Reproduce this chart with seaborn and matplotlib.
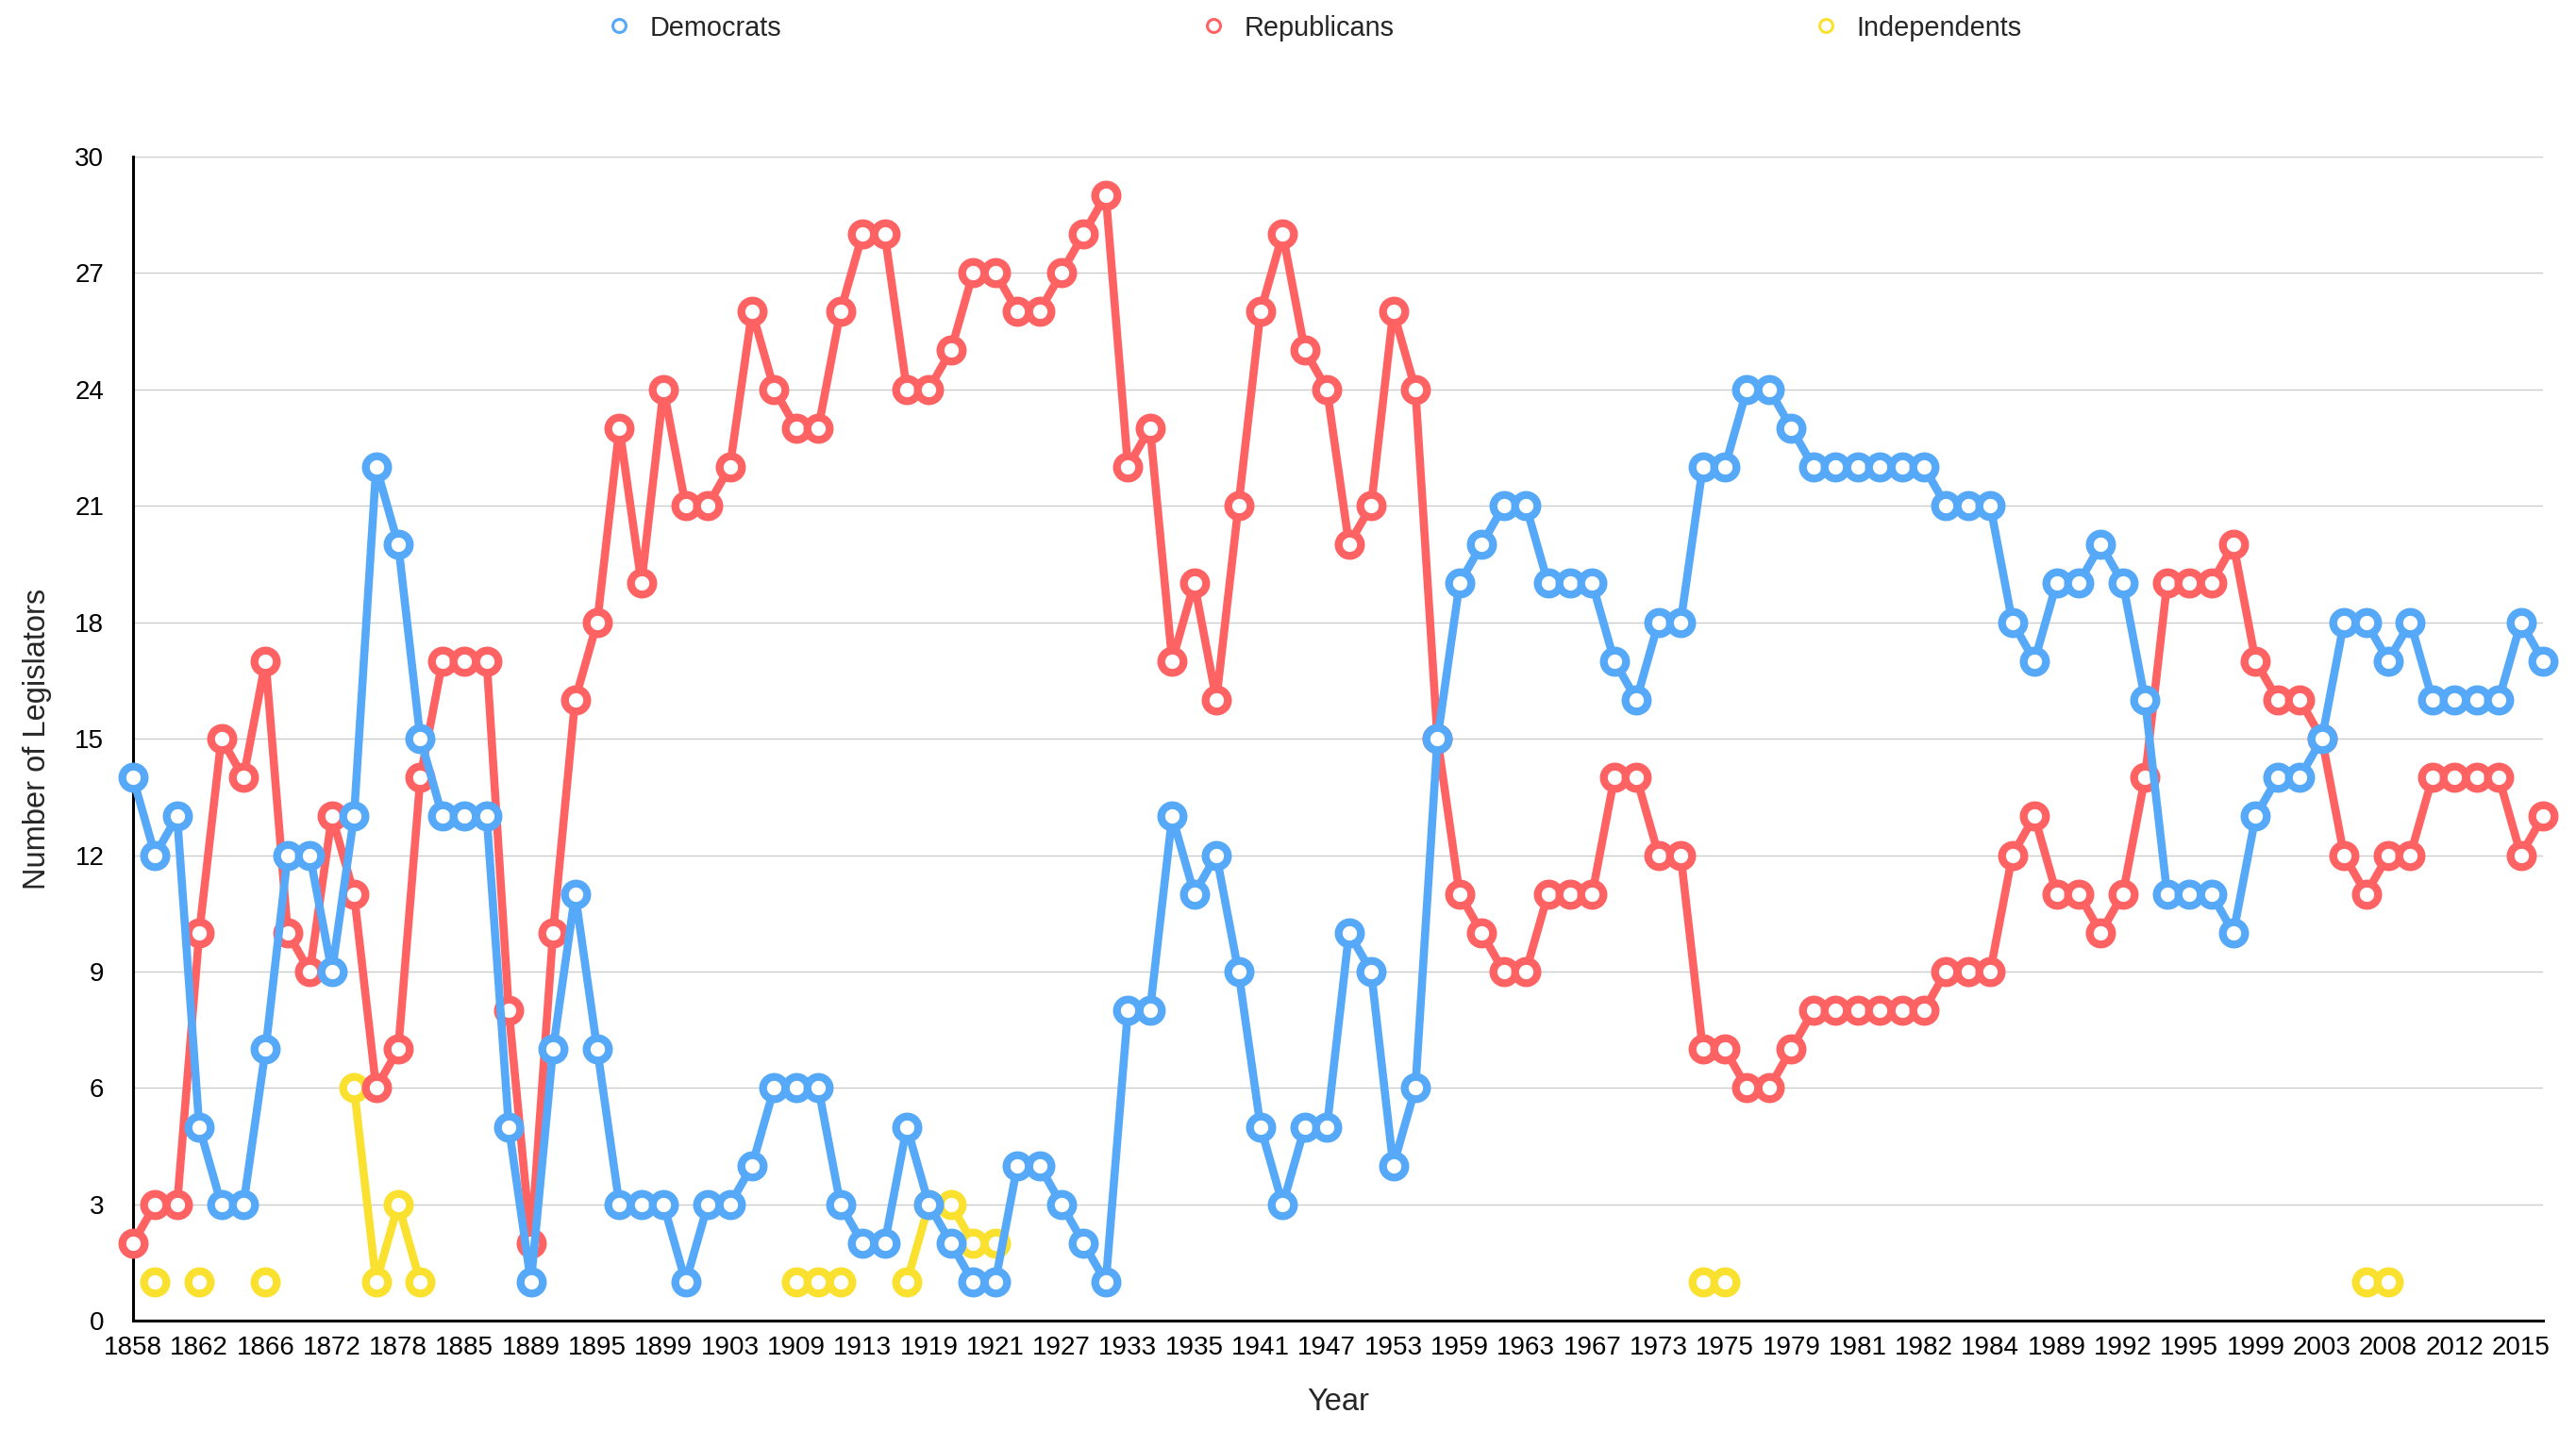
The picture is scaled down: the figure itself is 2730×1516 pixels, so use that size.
import matplotlib
matplotlib.use("Agg")
import matplotlib.pyplot as plt
import numpy as np
import pandas as pd
import seaborn as sns
from matplotlib.lines import Line2D

N = np.nan

# one entry per legislative session (only every third year is labelled on the axis)
years = [
    1858, 1859, 1860, 1862, 1863, 1864, 1866, 1868, 1870, 1872,
    1874, 1876, 1878, 1880, 1882, 1885, 1886, 1887, 1889, 1891,
    1893, 1895, 1897, 1898, 1899, 1901, 1902, 1903, 1905, 1907,
    1909, 1910, 1911, 1913, 1915, 1917, 1919, 1919, 1920, 1921,
    1923, 1925, 1927, 1929, 1931, 1933, 1933, 1934, 1935, 1937,
    1939, 1941, 1943, 1945, 1947, 1949, 1951, 1953, 1955, 1957,
    1959, 1960, 1961, 1963, 1965, 1966, 1967, 1969, 1971, 1973,
    1974, 1975, 1975, 1977, 1978, 1979, 1980, 1981, 1981, 1981,
    1982, 1982, 1983, 1983, 1984, 1985, 1987, 1989, 1990, 1991,
    1992, 1993, 1994, 1995, 1996, 1997, 1999, 2000, 2001, 2003,
    2004, 2005, 2008, 2009, 2010, 2012, 2013, 2014, 2015, 2016,
]

democrats = [
    14, 12, 13, 5, 3, 3, 7, 12, 12, 9, 13, 22, 20, 15,
    13, 13, 13, 5, 1, 7, 11, 7, 3, 3, 3, 1, 3, 3,
    4, 6, 6, 6, 3, 2, 2, 5, 3, 2, 1, 1, 4, 4,
    3, 2, 1, 8, 8, 13, 11, 12, 9, 5, 3, 5, 5, 10,
    9, 4, 6, 15, 19, 20, 21, 21, 19, 19, 19, 17, 16,
    18, 18, 22, 22, 24, 24, 23, 22, 22, 22, 22, 22, 22, 21,
    21, 21, 18, 17, 19, 19, 20, 19, 16, 11, 11, 11, 10, 13,
    14, 14, 15, 18, 18, 17, 18, 16, 16, 16, 16, 18, 17,
]

republicans = [
    2, 3, 3, 10, 15, 14, 17, 10, 9, 13, 11, 6, 7, 14,
    17, 17, 17, 8, 2, 10, 16, 18, 23, 19, 24, 21, 21, 22,
    26, 24, 23, 23, 26, 28, 28, 24, 24, 25, 27, 27, 26, 26,
    27, 28, 29, 22, 23, 17, 19, 16, 21, 26, 28, 25, 24, 20,
    21, 26, 24, 15, 11, 10, 9, 9, 11, 11, 11, 14, 14,
    12, 12, 7, 7, 6, 6, 7, 8, 8, 8, 8, 8, 8, 9,
    9, 9, 12, 13, 11, 11, 10, 11, 14, 19, 19, 19, 20, 17,
    16, 16, 15, 12, 11, 12, 12, 14, 14, 14, 14, 12, 13,
]

independents = [
    N, 1, N, 1, N, N, 1, N, N, N, 6, 1, 3, 1,
    N, N, N, N, N, N, N, N, N, N, N, N, N, N,
    N, N, 1, 1, 1, N, N, 1, 3, 3, 2, 2, N, N,
    N, N, N, N, N, N, N, N, N, N, N, N, N, N,
    N, N, N, N, N, N, N, N, N, N, N, N, N,
    N, N, 1, 1, N, N, N, N, N, N, N, N, N, N,
    N, N, N, N, N, N, N, N, N, N, N, N, N, N,
    N, N, N, N, 1, 1, N, N, N, N, N, N, N,
]

parties = ["Democrats", "Republicans", "Independents"]
colors = {"Democrats": "#55A9F8", "Republicans": "#FF6262", "Independents": "#FBE12F"}

df = pd.DataFrame({
    "session": range(len(years)),
    "year": years,
    "Democrats": democrats,
    "Republicans": republicans,
    "Independents": independents,
})
long = df.melt(id_vars=["session", "year"], value_vars=parties,
               var_name="party", value_name="count")
# split each series at missing values so isolated points stay unconnected
long["run"] = long.groupby("party")["count"].transform(lambda s: s.isna().cumsum())
long = long.dropna(subset=["count"])

sns.set_theme(style="white")
plt.rcParams["font.family"] = ["Liberation Sans", "DejaVu Sans"]

fig, ax = plt.subplots(figsize=(27.3, 15.16), dpi=100)
fig.subplots_adjust(left=0.0516, right=0.9872, bottom=0.0762, top=0.8908)

# Independents underneath, Democrats on top
for party in ["Independents", "Republicans", "Democrats"]:
    sub = long[long["party"] == party]
    sns.lineplot(data=sub, x="session", y="count", units="run", estimator=None,
                 color=colors[party], linewidth=6.2, marker="o", markersize=17,
                 markeredgewidth=6, markerfacecolor="white",
                 markeredgecolor=colors[party], clip_on=False, zorder=3, ax=ax)

ax.set_xlim(0, len(years) - 1)
ax.set_ylim(0, 30)
ax.set_yticks(range(0, 31, 3))
ax.set_xticks(df["session"][::3])
ax.set_xticklabels(df["year"][::3])
ax.tick_params(axis="both", length=0, labelsize=20, colors="black")
ax.tick_params(axis="y", pad=22)
ax.tick_params(axis="x", pad=11)
ax.yaxis.grid(True, color="#cccccc", linewidth=1)
ax.xaxis.grid(False)
ax.set_axisbelow(True)
sns.despine(ax=ax)
for side in ["left", "bottom"]:
    ax.spines[side].set_color("black")
    ax.spines[side].set_linewidth(2.2)

ax.set_xlabel("Year", fontsize=23.5)
ax.set_ylabel("Number of Legislators", fontsize=23.5)
ax.xaxis.set_label_coords(0.5, -0.070)
ax.xaxis.label.set_verticalalignment("center")
ax.yaxis.set_label_coords(-0.0395, 0.5)
ax.yaxis.label.set_verticalalignment("center")

handles = [Line2D([], [], linestyle="none", marker="o", markersize=10,
                  markeredgewidth=2.2, markerfacecolor="white",
                  markeredgecolor=colors[p]) for p in parties]
fig.legend(handles, parties, loc="center", bbox_to_anchor=(0.5105, 0.9805),
           ncol=3, frameon=False, fontsize=20.8, handlelength=0.8,
           handletextpad=0.72, columnspacing=15.45, borderaxespad=0)

fig.savefig("out.png", dpi=100)
plt.close(fig)
